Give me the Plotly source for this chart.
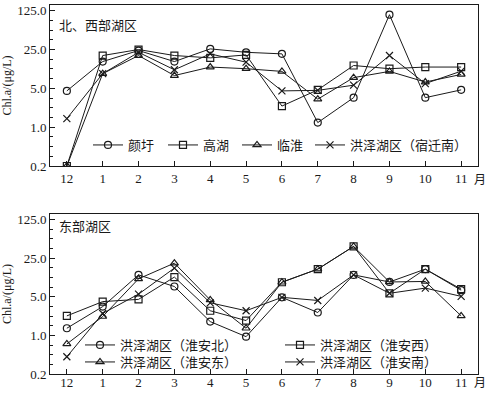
import math
import plotly.graph_objects as go

months = ["12", "1", "2", "3", "4", "5", "6", "7", "8", "9", "10", "11"]

# Top panel: 北、西部湖区
top_names = ["颜圩", "高湖", "临淮", "洪泽湖区（宿迁南）"]
yanwei = [4.5, 15.2, 24.0, 15.2, 25.7, 22.3, 20.9, 1.21, 3.4, 106.0, 3.4, 4.7]
gaohu = [0.2, 19.5, 25.0, 19.5, 17.7, 20.0, 2.4, 4.7, 12.9, 11.3, 12.1, 12.1]
linhuai = [0.2, 9.2, 19.5, 8.5, 12.1, 11.3, 10.1, 3.2, 7.8, 10.1, 6.5, 8.9]
suqiannan = [1.43, 9.2, 22.3, 10.8, 20.9, 14.8, 4.5, 4.6, 5.7, 19.5, 6.1, 10.2]

# Bottom panel: 东部湖区
bot_names = ["洪泽湖区（淮安北）", "洪泽湖区（淮安西）", "洪泽湖区（淮安东）", "洪泽湖区（淮安南）"]
huaianbei = [1.35, 3.33, 12.5, 7.7, 1.78, 0.95, 4.9, 2.6, 12.5, 9.3, 15.9, 6.6]
huaianxi = [2.26, 4.1, 4.5, 11.4, 2.8, 1.86, 9.2, 15.9, 41.0, 5.8, 15.9, 6.9]
huaiandong = [0.70, 2.2, 10.6, 20.4, 4.4, 1.35, 9.2, 15.9, 41.0, 9.3, 9.5, 2.26]
huaiannan = [0.41, 2.5, 5.6, 16.6, 3.9, 2.8, 4.9, 4.3, 12.5, 5.8, 7.2, 5.1]

ytick_vals = [0.2, 1.0, 5.0, 25.0, 125.0]
ytick_text = ["0.2", "1.0", "5.0", "25.0", "125.0"]

FONT = "Liberation Serif, Times New Roman, Noto Sans CJK SC, serif"
LC = "#1a1a1a"
symbols = ["circle-open", "square-open", "triangle-up-open", "x-thin-open"]

xs = list(range(len(months)))
fig = go.Figure()

top_series = [yanwei, gaohu, linhuai, suqiannan]
top_legends = ["legend", "legend2", "legend3", "legend4"]
for name, vals, sym, lg in zip(top_names, top_series, symbols, top_legends):
    fig.add_trace(go.Scatter(
        x=xs, y=vals, name=name, mode="lines+markers",
        line=dict(color=LC, width=1),
        marker=dict(symbol=sym, size=7, color=LC, line=dict(width=1.2, color=LC)),
        xaxis="x", yaxis="y", legend=lg,
    ))

bot_series = [huaianbei, huaianxi, huaiandong, huaiannan]
bot_legends = ["legend5", "legend6", "legend7", "legend8"]
for name, vals, sym, lg in zip(bot_names, bot_series, symbols, bot_legends):
    fig.add_trace(go.Scatter(
        x=xs, y=vals, name=name, mode="lines+markers",
        line=dict(color=LC, width=1),
        marker=dict(symbol=sym, size=7, color=LC, line=dict(width=1.2, color=LC)),
        xaxis="x2", yaxis="y2", legend=lg,
    ))

minor_vals = [0.2 * 5 ** (k / 4) for k in range(0, 17) if k % 4 != 0]
yrange = [math.log10(0.2), 2.2]

def yaxis(domain, anchor):
    return dict(
        type="log", range=yrange, domain=domain, anchor=anchor, automargin=False,
        tickvals=ytick_vals, ticktext=ytick_text,
        ticks="inside", ticklen=5, tickcolor=LC, tickwidth=1,
        minor=dict(tickvals=minor_vals, ticks="inside", ticklen=3, tickcolor=LC, tickwidth=1),
        showline=True, linecolor=LC, linewidth=1, mirror=True,
        showgrid=False, zeroline=False,
        title=dict(text="Chl.a/(μg/L)", font=dict(family=FONT, size=12, color=LC), standoff=4),
        tickfont=dict(family=FONT, size=13, color=LC),
    )

def xaxis(anchor, standoff):
    return dict(
        range=[-0.47, 11.47], anchor=anchor, domain=[0, 1], automargin=False,
        tickvals=xs, ticktext=months,
        ticks="inside", ticklen=5, tickcolor=LC, tickwidth=1,
        showline=True, linecolor=LC, linewidth=1, mirror=True,
        showgrid=False, zeroline=False, ticklabelstandoff=standoff,
        tickfont=dict(family=FONT, size=13, color=LC),
    )

def legend(xp, yp):
    return dict(
        x=xp, y=yp, orientation="h", bgcolor="rgba(0,0,0,0)", borderwidth=0,
        font=dict(family=FONT, size=13, color=LC),
        xanchor="left", yanchor="middle", itemwidth=30,
    )

H = 369.0
def ypaper(px):
    return (374.0 - px) / H

def xpaper(px):
    return (px - 50.0) / 428.0

fig.update_layout(
    width=488, height=393,
    margin=dict(l=50, r=10, t=5, b=19),
    paper_bgcolor="white", plot_bgcolor="white",
    showlegend=True,
    xaxis=xaxis("y", 0), yaxis=yaxis([ypaper(166), 1.0], "x"),
    xaxis2=xaxis("y2", -4), yaxis2=yaxis([0.0, ypaper(214)], "x2"),
    legend=legend(xpaper(88), ypaper(145)),
    legend2=legend(xpaper(163), ypaper(145)),
    legend3=legend(xpaper(237), ypaper(145)),
    legend4=legend(xpaper(310), ypaper(145)),
    legend5=legend(xpaper(80), ypaper(345)),
    legend6=legend(xpaper(280), ypaper(345)),
    legend7=legend(xpaper(80), ypaper(362)),
    legend8=legend(xpaper(280), ypaper(362)),
    annotations=[
        dict(text="北、西部湖区", x=xpaper(57), y=ypaper(26), xref="paper", yref="paper",
             xanchor="left", yanchor="middle", showarrow=False,
             font=dict(family=FONT, size=13, color=LC)),
        dict(text="东部湖区", x=xpaper(57), y=ypaper(227), xref="paper", yref="paper",
             xanchor="left", yanchor="middle", showarrow=False,
             font=dict(family=FONT, size=13, color=LC)),
        dict(text="月", x=xpaper(487), y=ypaper(180), xref="paper", yref="paper",
             xanchor="right", yanchor="middle", showarrow=False, borderpad=0,
             font=dict(family=FONT, size=12, color=LC)),
        dict(text="月", x=xpaper(487), y=ypaper(383), xref="paper", yref="paper",
             xanchor="right", yanchor="middle", showarrow=False, borderpad=0,
             font=dict(family=FONT, size=12, color=LC)),
    ],
)

fig.write_html(
    "out.html",
    config={"displayModeBar": False},
    post_script="document.body.style.margin='0px';document.body.style.overflow='hidden';",
)
